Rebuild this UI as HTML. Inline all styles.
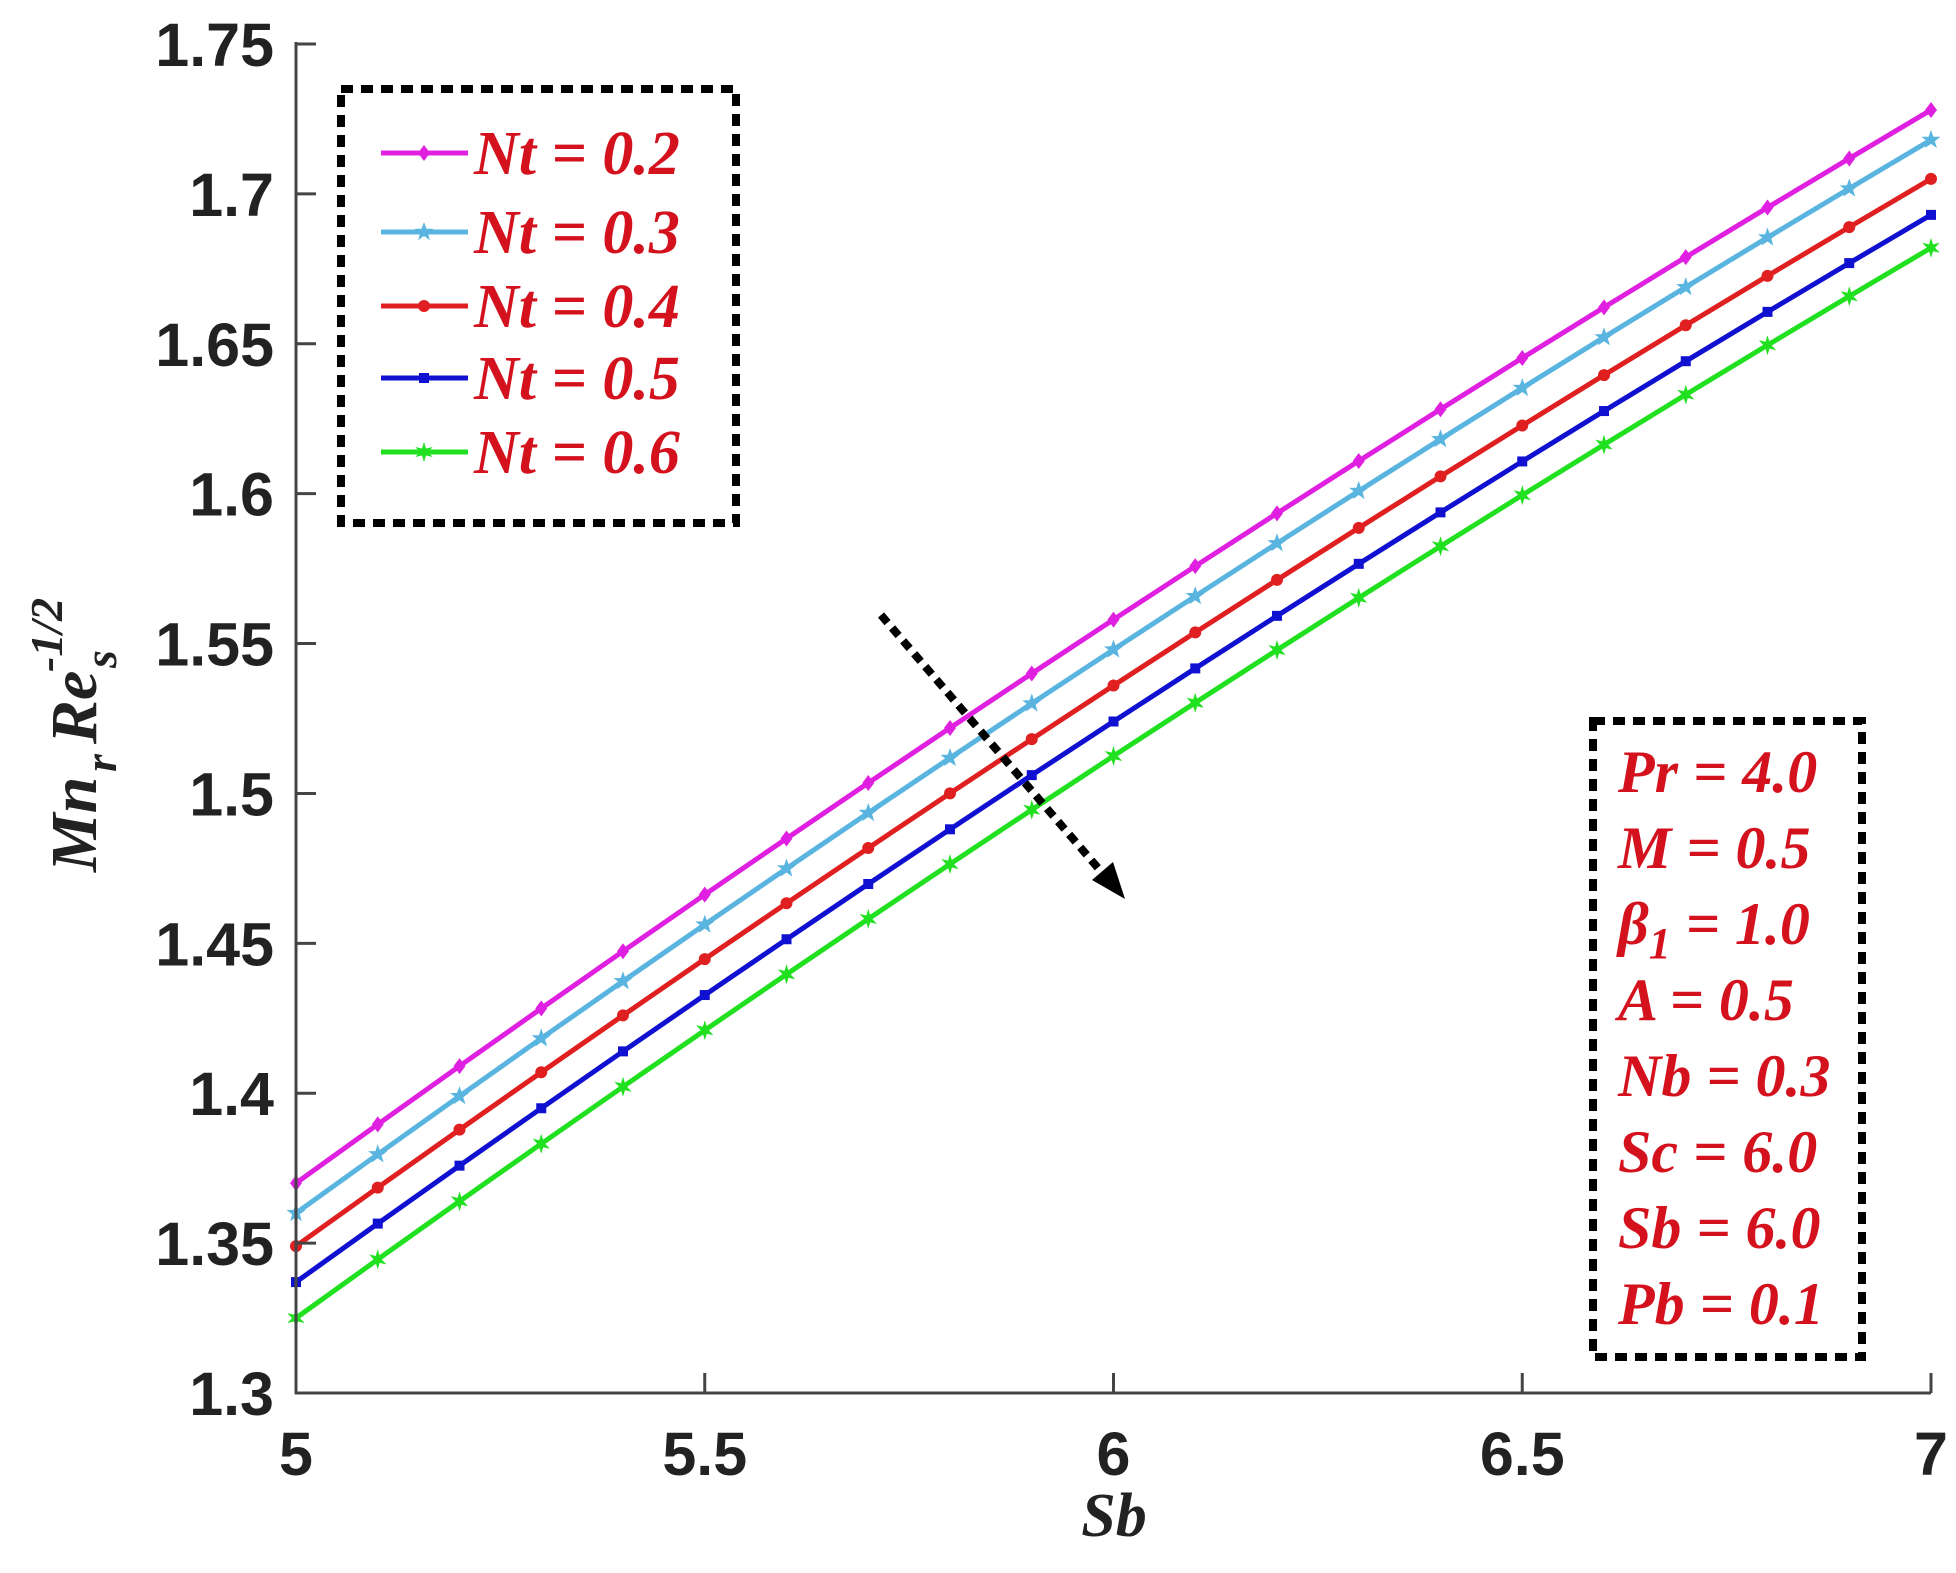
<!DOCTYPE html>
<html><head><meta charset="utf-8"><style>
html,body{margin:0;padding:0;background:#fff;}
svg{display:block;}
</style></head><body>
<svg id="s" width="1956" height="1573" xmlns="http://www.w3.org/2000/svg">
<rect width="1956" height="1573" fill="#fff"/>
<g id="series"></g>
<line x1="296" y1="42" x2="296" y2="1394" stroke="#444" stroke-width="3"/>
<line x1="295" y1="1393" x2="1931" y2="1393" stroke="#444" stroke-width="3"/>
<g id="ticks" stroke="#444" stroke-width="3"></g>
<g font-family="Liberation Sans, sans-serif" font-weight="bold" font-size="61" fill="#222" id="labels"></g>
<text x="1114" y="1536" font-family="Liberation Serif, serif" font-style="italic" font-weight="bold" font-size="62" fill="#222" text-anchor="middle">Sb</text>
<g transform="translate(96,872) rotate(-90)" font-family="Liberation Serif, serif" font-style="italic" font-weight="bold" fill="#222">
<text x="0" y="0" font-size="66">Mn</text>
<text x="100" y="20" font-size="46">r</text>
<text x="128" y="0" font-size="66">Re</text>
<text x="204" y="20" font-size="46">s</text>
<text x="200" y="-34" font-size="46">-1/2</text>
</g>
<rect x="341" y="89" width="395" height="434" fill="#fff" stroke="#000" stroke-width="8" stroke-dasharray="12,8"/>
<g id="leg" font-family="Liberation Serif, serif" font-style="italic" font-weight="bold" font-size="62" fill="#d4121e"></g>
<rect x="1593" y="721" width="269" height="636" fill="#fff" stroke="#000" stroke-width="8" stroke-dasharray="12,8"/>
<g font-family="Liberation Serif, serif" font-style="italic" font-weight="bold" font-size="60" fill="#d4121e">
<text x="1618" y="792">Pr = 4.0</text>
<text x="1618" y="868">M = 0.5</text>
<text x="1618" y="944">β<tspan font-size="44" dy="14">1</tspan><tspan dy="-14"> = 1.0</tspan></text>
<text x="1618" y="1020">A = 0.5</text>
<text x="1618" y="1096">Nb = 0.3</text>
<text x="1618" y="1172">Sc = 6.0</text>
<text x="1618" y="1248">Sb = 6.0</text>
<text x="1618" y="1324">Pb = 0.1</text>
</g>
<line x1="881" y1="615" x2="1110" y2="882" stroke="#000" stroke-width="8" stroke-dasharray="10,7"/>
<polygon points="1125,899 1092,880 1113,862" fill="#000"/>
</svg>
<script>
const NS="http://www.w3.org/2000/svg";
const X=v=>296+(v-5)*(1635/2);
const Y=v=>1393-(v-1.3)*(1349/0.45);
function el(t,a,p){const e=document.createElementNS(NS,t);for(const k in a)e.setAttribute(k,a[k]);p.appendChild(e);return e;}
const tk=document.getElementById('ticks'),lb=document.getElementById('labels');
for(let i=0;i<=9;i++){const v=1.3+i*0.05,y=Y(v);el('line',{x1:296,y1:y,x2:316,y2:y},tk);
 const t=el('text',{x:274,y:y+22,'text-anchor':'end'},lb);t.textContent=(+v.toFixed(2)).toString();}
for(let i=0;i<=4;i++){const v=5+i*0.5,x=X(v);el('line',{x1:x,y1:1393,x2:x,y2:1373},tk);
 const t=el('text',{x:x,y:1475,'text-anchor':'middle'},lb);t.textContent=v.toString();}
const S=[{c:'#e020e0',y0:1.370,m:'d'},{c:'#5ab4e0',y0:1.360,m:'p'},{c:'#e02020',y0:1.349,m:'o'},{c:'#1010d0',y0:1.337,m:'s'},{c:'#20e020',y0:1.325,m:'h'}];
const g=document.getElementById('series'),lg=document.getElementById('leg');
function marker(m,x,y,c,p){
 if(m=='d')el('polygon',{points:`${x},${y-8} ${x+6},${y} ${x},${y+8} ${x-6},${y}`,fill:c},p);
 else if(m=='o')el('circle',{cx:x,cy:y,r:6,fill:c},p);
 else if(m=='s')el('rect',{x:x-5,y:y-5,width:10,height:10,fill:c},p);
 else{let pts=[];const n=m=='p'?5:6;for(let k=0;k<2*n;k++){const r=k%2?4:10,a=-Math.PI/2+k*Math.PI/n;pts.push((x+r*Math.cos(a)).toFixed(1)+','+(y+r*Math.sin(a)).toFixed(1));}
  el('polygon',{points:pts.join(' '),fill:c},p);}
}
const ly=[153,232,306,378,452],lab=['0.2','0.3','0.4','0.5','0.6'];
S.forEach((s,i)=>{let pts=[];const d=[0,0,0.002,0.002,0.001][i];for(let k=0;k<=20;k++){const t=k*0.1,v=s.y0+0.197*t-0.009*t*t-d*t/2;pts.push([X(5+t),Y(v)]);}
 el('polyline',{points:pts.map(p=>p.join(',')).join(' '),fill:'none',stroke:s.c,'stroke-width':5},g);
 pts.forEach(p=>marker(s.m,p[0],p[1],s.c,g));
 el('line',{x1:381,y1:ly[i],x2:468,y2:ly[i],stroke:s.c,'stroke-width':5},lg);
 marker(s.m,424,ly[i],s.c,lg);
 const t=el('text',{x:474,y:ly[i]+21},lg);t.textContent='Nt = '+lab[i];});
</script>
</body></html>
